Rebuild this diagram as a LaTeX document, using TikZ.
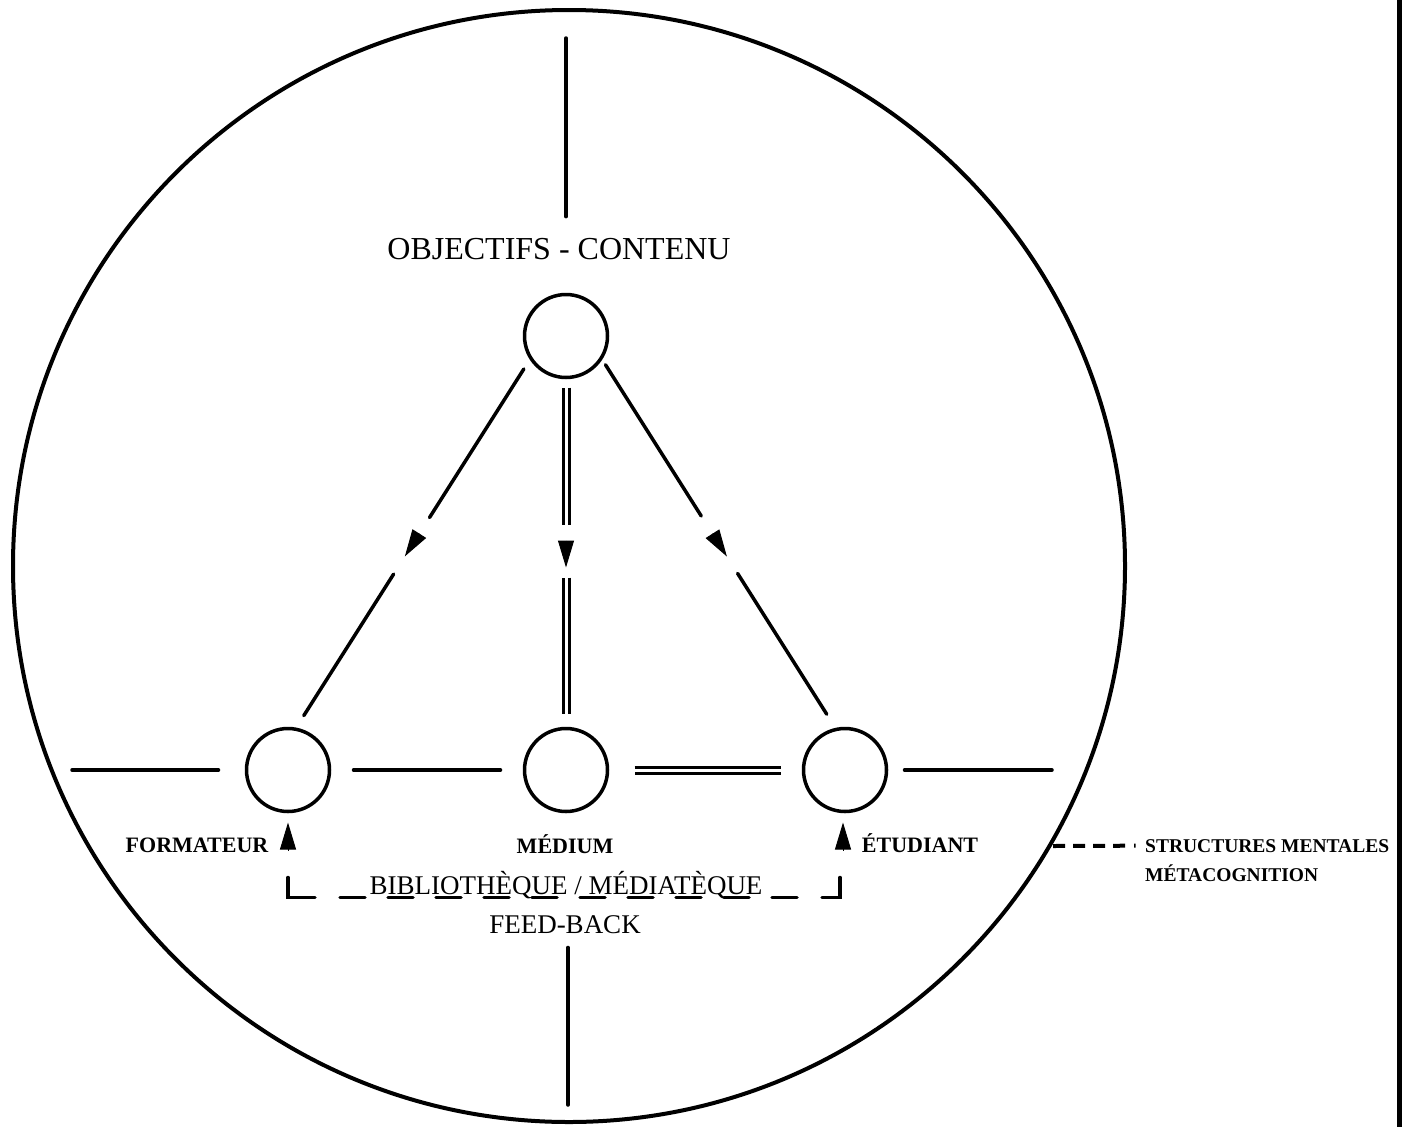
\documentclass[tikz,border=0pt]{standalone}
\usepackage{fontspec}
\setmainfont{Liberation Serif}
\usetikzlibrary{positioning, arrows.meta, calc}

\begin{document}
\begin{tikzpicture}[
        x=1pt, y=-1pt,
        hub/.style={circle, draw, line width=3.5pt, minimum size=83pt, inner sep=0pt, outer sep=0pt},
        link/.style={line width=3.5pt, line cap=round},
        dbl/.style={line width=3pt, double, double distance=3pt},
        arrowhd/.style={-{Triangle[length=27pt, width=16pt]}, line width=1pt},
        bigtxt/.style={font=\fontsize{32}{32}\selectfont, inner sep=0pt, anchor=base},
        midtxt/.style={font=\fontsize{27}{27}\selectfont, inner sep=0pt, anchor=base},
        lbl/.style={font=\bfseries\fontsize{22}{22}\selectfont, inner sep=0pt, anchor=base},
        legtxt/.style={font=\bfseries\fontsize{19.5}{19.5}\selectfont, inner sep=0pt, anchor=base west},
        legline/.style={line width=4pt, dash pattern=on 12pt off 8pt on 12pt off 8pt on 12pt off 8pt on 12pt off 9pt on 1.5pt off 40pt}
    ]
        \useasboundingbox (0,0) rectangle (1410,1127);

        % Outer circle and right rule
        \draw[line width=4pt] (569,566) circle[radius=556pt];
        \draw[line width=5pt] (1399,0) -- (1399,1127);

        % Circles
        \node[hub] (med) at (566,770) {};
        \node[hub, left=195pt of med] (frm) {};
        \node[hub, right=196pt of med] (etu) {};
        \node[hub, above=351pt of med] (obj) {};

        % Texts
        \node[bigtxt] (objtxt) at (559,259) {OBJECTIFS - CONTENU};
        \node[lbl] (frmtxt) at (197,852) {FORMATEUR};
        \node[lbl] (medtxt) at (565,853) {MÉDIUM};
        \node[lbl] (etutxt) at (920,852) {ÉTUDIANT};
        \node[midtxt] (bibtxt) at (566,894) {BIBLIOTHÈQUE / MÉDIATÈQUE};
        \node[midtxt] (fbtxt) at (565,933) {FEED-BACK};
        \node[legtxt] (leg1) at (1145,852) {STRUCTURES MENTALES};
        \node[legtxt] (leg2) at (1145,881) {MÉTACOGNITION};

        % Axes
        \coordinate (ntop) at (566,38);
        \coordinate (nbot) at (568,1105);
        \coordinate (wend) at (72,770);
        \coordinate (eend) at (1052,770);
        \draw[link, shorten >=21pt] (ntop) -- (ntop |- objtxt.north);
        \draw[link, shorten <=14pt] (nbot |- fbtxt.south) -- (nbot);
        \draw[link, shorten >=28pt] (wend) -- (frm.west);
        \draw[link, shorten <=18pt] (etu.east) -- (eend);

        % Bottom row
        \draw[link, shorten <=24pt, shorten >=24pt] (frm) -- (med);
        \draw[dbl, shorten <=27pt, shorten >=23pt] (med) -- (etu);

        % Objectifs to formateur
        \draw[link] ($(obj.212)!13pt!(frm.80)$) -- ($(obj.212)!189pt!(frm.80)$);
        \draw[arrowhd] ($(obj.212)!208pt!(frm.80)$) -- ($(obj.212)!235pt!(frm.80)$);
        \draw[link] ($(obj.212)!256pt!(frm.80)$) -- ($(frm.80)!16pt!(obj.212)$);

        % Objectifs to medium
        \draw[dbl] ($(obj.south)!10pt!(med.north)$) -- ($(obj.south)!147pt!(med.north)$);
        \draw[arrowhd] ($(obj.south)!163pt!(med.north)$) -- ($(obj.south)!190pt!(med.north)$);
        \draw[dbl] ($(obj.south)!200pt!(med.north)$) -- ($(med.north)!15pt!(obj.south)$);

        % Objectifs to etudiant
        \draw[link] ($(obj.328)!8pt!(etu.102)$) -- ($(obj.328)!187pt!(etu.102)$);
        \draw[arrowhd] ($(obj.328)!208pt!(etu.102)$) -- ($(obj.328)!235pt!(etu.102)$);
        \draw[link] ($(obj.328)!255pt!(etu.102)$) -- ($(etu.102)!18pt!(obj.328)$);

        % Feed-back loop
        \draw[arrowhd, shorten >=11pt] ($(frm.south)+(0,39)$) -- (frm.south);
        \draw[arrowhd, shorten >=11pt] ($(etu.south)+(-2,39)$) -- ($(etu.south)+(-2,0)$);
        \draw[link] ($(frm.south)+(0,66)$) |- ++(27,20);
        \draw[link, dash pattern=on 25pt off 23pt] ($(frm.south)+(52,86)$) -- ($(etu.south)+(-48,86)$);
        \draw[link] ($(etu.south)+(-23,86)$) -| ++(18,-20);

        % Legend
        \coordinate (legstart) at (1053,846);
        \draw[legline, shorten >=9pt] (legstart) -- (leg1.west);
    \end{tikzpicture}
\end{document}
